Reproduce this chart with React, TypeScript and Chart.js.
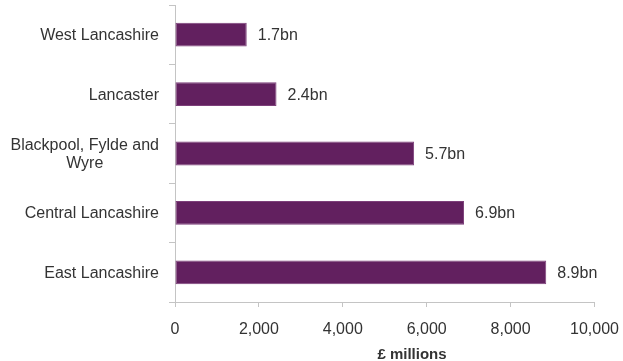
import React, { useEffect, useRef } from "react";
import { Chart, registerables } from "chart.js";

Chart.register(...registerables);

const categories: (string | string[])[] = [
  "West Lancashire",
  "Lancaster",
  ["Blackpool, Fylde and", "Wyre"],
  "Central Lancashire",
  "East Lancashire",
];
const values: number[] = [1710, 2420, 5700, 6890, 8850];
const valueLabels: string[] = ["1.7bn", "2.4bn", "5.7bn", "6.9bn", "8.9bn"];
const xTicks: number[] = [0, 2000, 4000, 6000, 8000, 10000];
const xTitle = "£ millions";

const FONT = "'Liberation Sans', Arial, sans-serif";
const TEXT = "#333333";
const BAR = "#62205f";

export default function App() {
  const ref = useRef<HTMLCanvasElement | null>(null);

  useEffect(() => {
    document.body.style.margin = "0";
    const canvas = ref.current;
    if (!canvas) return;

    const labelsPlugin = {
      id: "customLabels",
      afterDraw(chart: any) {
        const ctx = chart.ctx;
        const y = chart.scales.y;
        const x = chart.scales.x;
        ctx.save();
        ctx.fillStyle = TEXT;
        ctx.font = `16px ${FONT}`;
        ctx.textBaseline = "middle";
        // category labels
        categories.forEach((c, i) => {
          const lines = Array.isArray(c) ? c : [c];
          const cy = y.getPixelForValue(i);
          const widths = lines.map((l) => ctx.measureText(l).width);
          const maxW = Math.max(...widths);
          const right = chart.chartArea.left - 16;
          ctx.textAlign = "center";
          lines.forEach((l, j) => {
            const ly = cy + (j - (lines.length - 1) / 2) * 18 + 1;
            ctx.fillText(l, right - maxW / 2, ly);
          });
        });
        // value labels
        ctx.textAlign = "left";
        values.forEach((v, i) => {
          const px = x.getPixelForValue(v) + 11;
          const py = y.getPixelForValue(i);
          ctx.fillText(valueLabels[i], px, py + 1);
        });
        // axis title
        ctx.font = `bold 15px ${FONT}`;
        ctx.textAlign = "center";
        const ca = chart.chartArea;
        ctx.fillText(xTitle, ca.left + ca.width * 0.565, 355);
        ctx.restore();
      },
    };

    const chart = new Chart(canvas, {
      type: "bar",
      data: {
        labels: categories as any,
        datasets: [
          {
            data: values,
            backgroundColor: BAR,
            borderColor: "#7d3f7a",
            borderWidth: 1,
            borderSkipped: false,
            barPercentage: 0.4,
            categoryPercentage: 1,
          },
        ],
      },
      options: {
        indexAxis: "y",
        animation: false,
        responsive: false,
        events: [],
        layout: { padding: { top: 5, right: 28.5, left: 0, bottom: 0 } },
        plugins: {
          legend: { display: false },
          tooltip: { enabled: false },
        },
        scales: {
          x: {
            type: "linear",
            min: 0,
            max: 10000,
            afterBuildTicks(scale: any) {
              scale.ticks = xTicks.map((v) => ({ value: v }));
            },
            afterFit(scale: any) {
              scale.height = 59;
              scale.paddingLeft = 0;
              scale.paddingRight = 0;
            },
            border: { display: true, color: "#c4c4c4", width: 1 },
            grid: {
              drawOnChartArea: false,
              drawTicks: true,
              tickLength: 5,
              color: "#c4c4c4",
            },
            ticks: {
              color: TEXT,
              font: { family: FONT, size: 16 },
              padding: 13,
              maxRotation: 0,
              callback: (v: any) => Number(v).toLocaleString("en-GB"),
            },
          },
          y: {
            type: "category",
            afterFit(scale: any) {
              scale.width = 175;
              scale.paddingTop = 0;
              scale.paddingBottom = 0;
            },
            border: { display: true, color: "#c4c4c4", width: 1 },
            grid: {
              drawOnChartArea: false,
              drawTicks: true,
              tickLength: 6,
              offset: true,
              color: "#c4c4c4",
            },
            ticks: { display: false },
          },
        },
      },
      plugins: [labelsPlugin],
    });

    return () => chart.destroy();
  }, []);

  return (
    <div style={{ width: 623, height: 361, background: "#fff" }}>
      <canvas ref={ref} width={623} height={361} />
    </div>
  );
}
